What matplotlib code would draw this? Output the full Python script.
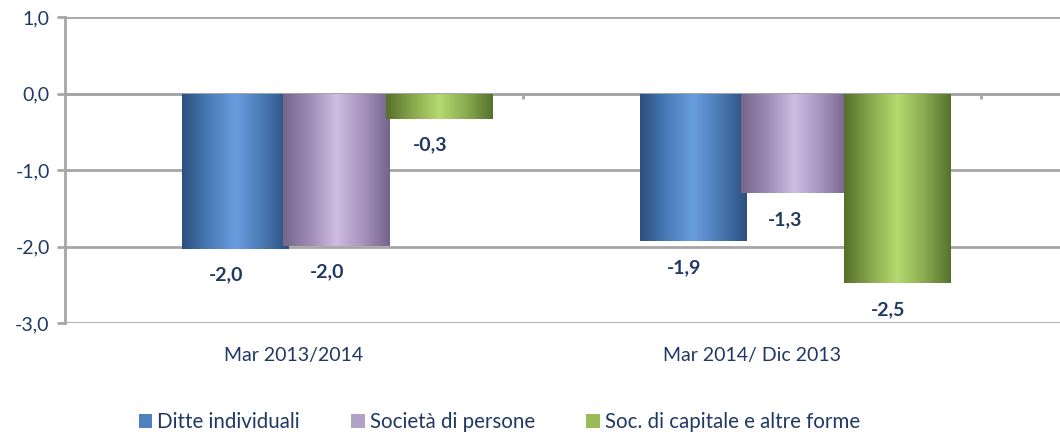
import numpy as np
import matplotlib
matplotlib.use("Agg")
import matplotlib.pyplot as plt
from matplotlib.colors import LinearSegmentedColormap
from matplotlib.patches import Patch

plt.rcParams['font.family'] = ['Lato', 'DejaVu Sans']

# data
categories = ["Mar 2013/2014", "Mar 2014/ Dic 2013"]
series = ["Ditte individuali", "Società di persone", "Soc. di capitale e altre forme"]
ditte = [-2.03, -1.93]
societa = [-1.99, -1.30]
capitale = [-0.33, -2.48]
labels_ditte = ["-2,0", "-1,9"]
labels_societa = ["-2,0", "-1,3"]
labels_capitale = ["-0,3", "-2,5"]
yticks = [1, 0, -1, -2, -3]
ytick_labels = ["1,0", "0,0", "-1,0", "-2,0", "-3,0"]

values = [ditte, societa, capitale]
value_labels = [labels_ditte, labels_societa, labels_capitale]

# gradient colours (edge, mid-light, edge)
grads = [
    ["#2b4f7e", "#4a7bb8", "#6a9de0", "#4a79b3", "#2c5080"],
    ["#76668a", "#9d8bb3", "#cfbde3", "#a692bb", "#75648a"],
    ["#54702a", "#89a84e", "#b5da70", "#8aab50", "#56722b"],
]
legend_colors = ["#4f81bd", "#b3a2c7", "#9bbb59"]
text_color = "#203864"
grid_color = "#a6a6a6"

fig = plt.figure(figsize=(10.6, 4.34), dpi=100)
ax = fig.add_axes([65 / 1060, 1 - 323 / 434, 1 - 65 / 1060, (323 - 17) / 434])

x = np.arange(len(categories))
offsets = [-0.128, 0.093, 0.318]
width = 0.232

grad_img = np.linspace(0, 1, 256).reshape(1, -1)
for i in range(3):
    cmap = LinearSegmentedColormap.from_list("g%d" % i, grads[i])
    bars = ax.bar(x + offsets[i], values[i], width, color="none", edgecolor="none", zorder=3)
    for b in bars:
        x0, y0 = b.get_x(), b.get_y()
        w, h = b.get_width(), b.get_height()
        im = ax.imshow(grad_img, cmap=cmap, aspect="auto", zorder=3,
                       extent=[x0, x0 + w, y0 + h, y0], interpolation="bilinear")
        im.set_clip_path(b)
    for j, b in enumerate(bars):
        ax.annotate(value_labels[i][j], (b.get_x() + b.get_width() / 2 - 0.02, values[i][j]),
                    xytext=(0, -19), textcoords="offset points", ha="center", va="center",
                    fontsize=14, fontweight="bold", color=text_color, zorder=5)

ax.set_xlim(-0.5, 1.5 + 79 / 457)
ax.set_ylim(-3, 1)
ax.set_yticks(yticks)
ax.set_yticklabels(ytick_labels)
ax.tick_params(axis="y", colors=grid_color, labelcolor=text_color, labelsize=14,
               length=6, width=2, pad=5)
ax.grid(axis="y", color=grid_color, linewidth=2, zorder=1)
ax.set_axisbelow(True)
ax.axhline(0, color=grid_color, linewidth=2, zorder=2)
ax.vlines([0.5, 1.5], -0.07, 0, color=grid_color, linewidth=2, zorder=2)

ax.set_xticks(x)
ax.set_xticklabels(categories)
ax.tick_params(axis="x", length=0, pad=17, labelsize=14, labelcolor=text_color)

for s in ["top", "right", "bottom"]:
    ax.spines[s].set_visible(False)
ax.spines["left"].set_color(grid_color)
ax.spines["left"].set_linewidth(2)

handles = [Patch(facecolor=c, edgecolor="none") for c in legend_colors]
fig.legend(handles, series, loc="center", bbox_to_anchor=(0.471, 0.027), ncol=3,
           frameon=False, fontsize=14.8, handlelength=0.65, handleheight=0.65,
           handletextpad=0.25, columnspacing=2.5, labelcolor=text_color)

fig.savefig("out.png", dpi=100)
